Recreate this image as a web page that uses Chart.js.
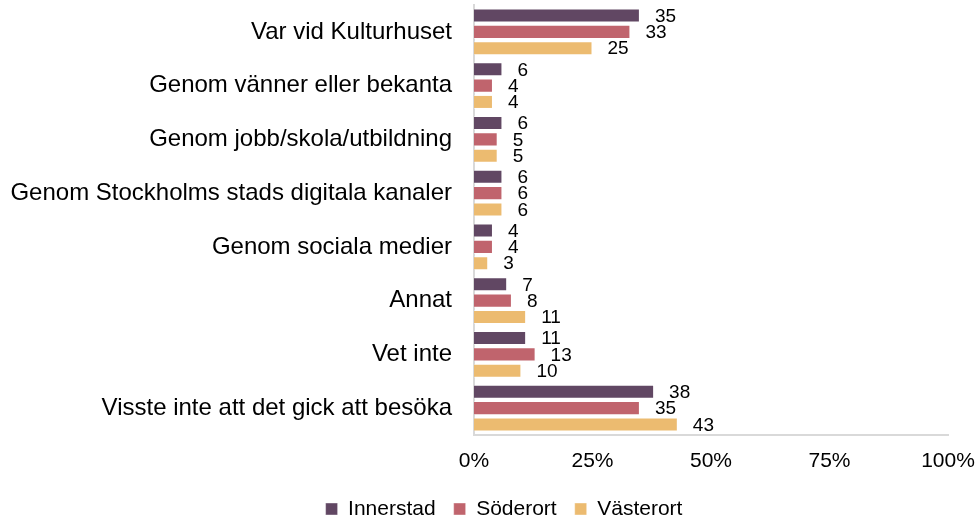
<!DOCTYPE html>
<html>
<head>
<meta charset="utf-8">
<script src="https://cdn.jsdelivr.net/npm/chart.js@4.4.1/dist/chart.umd.min.js"></script>
<style>
  html, body { margin: 0; padding: 0; background: #fff; }
  #wrap { width: 978px; height: 516px; }
</style>
</head>
<body>
<div id="wrap"><canvas id="chart" width="978" height="516"></canvas></div>
<script>
// Chart data
const categories = [
    'Var vid Kulturhuset',
    'Genom vänner eller bekanta',
    'Genom jobb/skola/utbildning',
    'Genom Stockholms stads digitala kanaler',
    'Genom sociala medier',
    'Annat',
    'Vet inte',
    'Visste inte att det gick att besöka'
];
const innerstad = [35, 6, 6, 6, 4, 7, 11, 38];
const soderort  = [33, 4, 5, 6, 4, 8, 13, 35];
const vasterort = [25, 4, 5, 6, 3, 11, 10, 43];
const xTicks = [0, 25, 50, 75, 100];

const FONT = "'Liberation Sans', Arial, sans-serif";

/**
 * Draw the value next to the end of every bar
 */
const valueLabels = {
    id: 'valueLabels',
    afterDatasetsDraw(chart) {
        const ctx = chart.ctx;
        ctx.save();
        ctx.font = '19px ' + FONT;
        ctx.fillStyle = '#000';
        ctx.textAlign = 'left';
        ctx.textBaseline = 'middle';
        chart.data.datasets.forEach((ds, i) => {
            const meta = chart.getDatasetMeta(i);
            meta.data.forEach((bar, j) => {
                ctx.fillText(String(ds.data[j]), bar.x + 15, bar.y + 1);
            });
        });
        ctx.restore();
    }
};

/**
 * Move the legend a little to the right, as in the original
 */
const legendShift = {
    id: 'legendShift',
    afterLayout(chart) {
        const lg = chart.legend;
        if (!lg) return;
        lg.left += 30;
        lg.right += 30;
    }
};

const ctx = document.getElementById('chart');
new Chart(ctx, {
    type: 'bar',
    data: {
        labels: categories,
        datasets: [
            { label: 'Innerstad', data: innerstad, backgroundColor: '#614763' },
            { label: 'Söderort', data: soderort, backgroundColor: '#c0646d' },
            { label: 'Västerort', data: vasterort, backgroundColor: '#ecbb70' }
        ]
    },
    options: {
        indexAxis: 'y',
        responsive: false,
        animation: false,
        categoryPercentage: 0.91,
        barPercentage: 0.86,
        elements: {
            bar: { borderWidth: 1, borderColor: 'rgba(255, 255, 255, 0.4)' }
        },
        layout: {
            autoPadding: false,
            padding: { top: 5, right: 30, left: 0, bottom: -13.5 }
        },
        scales: {
            x: {
                min: 0,
                max: 100,
                afterBuildTicks: (scale) => {
                    scale.ticks = xTicks.map(v => ({ value: v }));
                },
                afterFit: (scale) => { scale.height = 45.5; },
                grid: { display: false, drawTicks: true, tickLength: 14 },
                border: { display: true, color: '#d9d9d9', width: 2 },
                ticks: {
                    padding: 0,
                    color: '#000',
                    font: { family: FONT, size: 21 },
                    callback: (v) => v + '%'
                }
            },
            y: {
                afterFit: (scale) => { scale.width = 474; },
                grid: { display: false, drawTicks: true, tickLength: 22 },
                border: { display: true, color: '#d9d9d9', width: 2 },
                ticks: {
                    padding: 0,
                    color: '#000',
                    font: { family: FONT, size: 24, lineHeight: 0.4 }
                }
            }
        },
        plugins: {
            legend: {
                position: 'bottom',
                labels: {
                    boxWidth: 12,
                    boxHeight: 12,
                    padding: 18,
                    color: '#000',
                    font: { family: FONT, size: 21 }
                }
            },
            tooltip: { enabled: false }
        }
    },
    plugins: [valueLabels, legendShift]
});
</script>
</body>
</html>
